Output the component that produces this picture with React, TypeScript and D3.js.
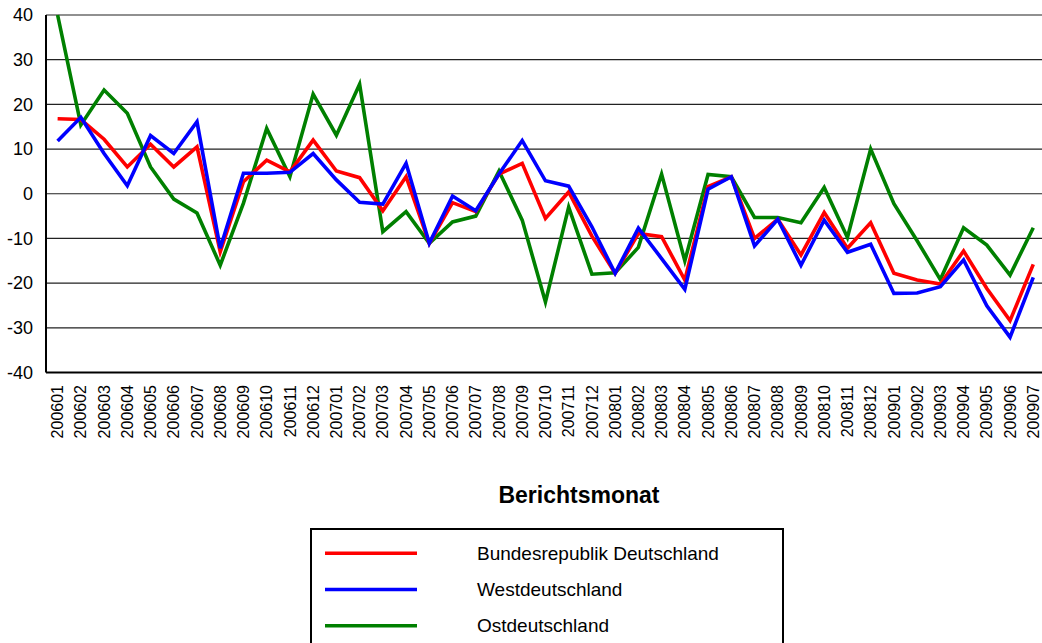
import * as d3 from 'd3'

const months = [
  '200601', '200602', '200603', '200604', '200605', '200606', '200607', '200608', '200609', '200610', '200611', '200612',
  '200701', '200702', '200703', '200704', '200705', '200706', '200707', '200708', '200709', '200710', '200711', '200712',
  '200801', '200802', '200803', '200804', '200805', '200806', '200807', '200808', '200809', '200810', '200811', '200812',
  '200901', '200902', '200903', '200904', '200905', '200906', '200907',
]

const bund = [
  16.8, 16.6, 12.2, 6.0, 11.1, 6.0, 10.5, -13.0, 2.7, 7.5, 4.9, 12.0,
  5.1, 3.6, -3.8, 3.8, -11.1, -2.0, -4.0, 4.4, 6.8, -5.5, 0.4, -9.5,
  -17.8, -8.9, -9.6, -19.3, 1.6, 3.8, -10.0, -5.7, -13.7, -4.2, -12.2, -6.5,
  -17.8, -19.3, -20.2, -12.8, -21.2, -28.4, -15.8,
]

const west = [
  11.8, 17.1, 9.0, 1.8, 13.0, 9.0, 16.1, -12.2, 4.6, 4.6, 4.8, 9.0,
  3.1, -1.9, -2.3, 6.8, -11.1, -0.5, -3.8, 4.4, 11.9, 2.9, 1.7, -7.4,
  -17.8, -7.7, -14.5, -21.4, 1.0, 3.8, -11.7, -5.7, -16.0, -5.9, -13.1, -11.3,
  -22.3, -22.2, -20.8, -14.8, -25.1, -32.1, -18.7,
]

const ost = [
  40.0, 15.4, 23.2, 18.0, 6.0, -1.2, -4.3, -16.0, -2.1, 14.6, 3.8, 22.3,
  13.1, 24.5, -8.5, -4.0, -11.1, -6.3, -5.0, 5.1, -5.9, -24.2, -3.0, -18.0,
  -17.7, -12.0, 4.4, -15.0, 4.3, 3.8, -5.3, -5.3, -6.5, 1.4, -9.8, 10.0,
  -2.2, -10.5, -19.2, -7.6, -11.5, -18.2, -7.6,
]

const yTicks = [-40, -30, -20, -10, 0, 10, 20, 30, 40]

const series = [
  { name: 'Ostdeutschland', color: '#008000', values: ost },
  { name: 'Bundesrepublik Deutschland', color: '#ff0000', values: bund },
  { name: 'Westdeutschland', color: '#0000ff', values: west },
]
const legendOrder = ['Bundesrepublik Deutschland', 'Westdeutschland', 'Ostdeutschland']

const W = 1042
const H = 643
const left = 46
const top = 15
const bottom = 372.5
const step = 23.23

export default function App() {
  const x = d3.scaleBand<string>()
    .domain(months)
    .range([left, left + step * months.length])
  const y = d3.scaleLinear().domain([-40, 40]).range([bottom, top])

  const cx = (m: string) => (x(m) as number) + x.bandwidth() / 2

  const line = d3.line<number>()
    .x((_, i) => cx(months[i]))
    .y(d => y(d))

  const font = 'Arial, "Liberation Sans", Helvetica, sans-serif'

  return (
    <div>
      <style>{`body{margin:0}`}</style>
      <svg width={W} height={H} style={{ display: 'block', fontFamily: font }}>
        <rect width={W} height={H} fill="#fff" />

        {/* grid */}
        {yTicks.map(t => (
          <line key={t} x1={left} x2={W} y1={y(t)} y2={y(t)} stroke="#222" strokeWidth={1.2} />
        ))}

        {/* y labels */}
        {yTicks.map(t => (
          <text key={'l' + t} x={33} y={y(t)} dy="0.35em" textAnchor="end" fontSize={18} fill="#000">
            {t}
          </text>
        ))}

        {/* lines */}
        {series.map(s => (
          <path key={s.name} d={line(s.values) ?? ''} fill="none" stroke={s.color}
            strokeWidth={3.6} strokeLinejoin="miter" />
        ))}

        {/* axes */}
        <line x1={left} x2={left} y1={top} y2={bottom} stroke="#000" strokeWidth={2} />
        <line x1={left} x2={W} y1={bottom} y2={bottom} stroke="#000" strokeWidth={2} />

        {/* x labels */}
        {months.map(m => (
          <text key={m} transform={`translate(${cx(m)},385) rotate(-90)`} dy="0.35em"
            textAnchor="end" fontSize={16} fill="#000">
            {m}
          </text>
        ))}

        <text x={579} y={503} textAnchor="middle" fontSize={23} fontWeight="bold" fill="#000">
          Berichtsmonat
        </text>

        {/* legend */}
        <rect x={311} y={529} width={472} height={130} fill="#fff" stroke="#000" strokeWidth={2} />
        {legendOrder.map((n, i) => {
          const s = series.find(d => d.name === n)!
          const ly = 553.3 + i * 36.2
          return (
            <g key={n}>
              <line x1={325} x2={417} y1={ly} y2={ly} stroke={s.color} strokeWidth={3.5} />
              <text x={477} y={ly} dy="0.35em" fontSize={19} fill="#000">{n}</text>
            </g>
          )
        })}
      </svg>
    </div>
  )
}
